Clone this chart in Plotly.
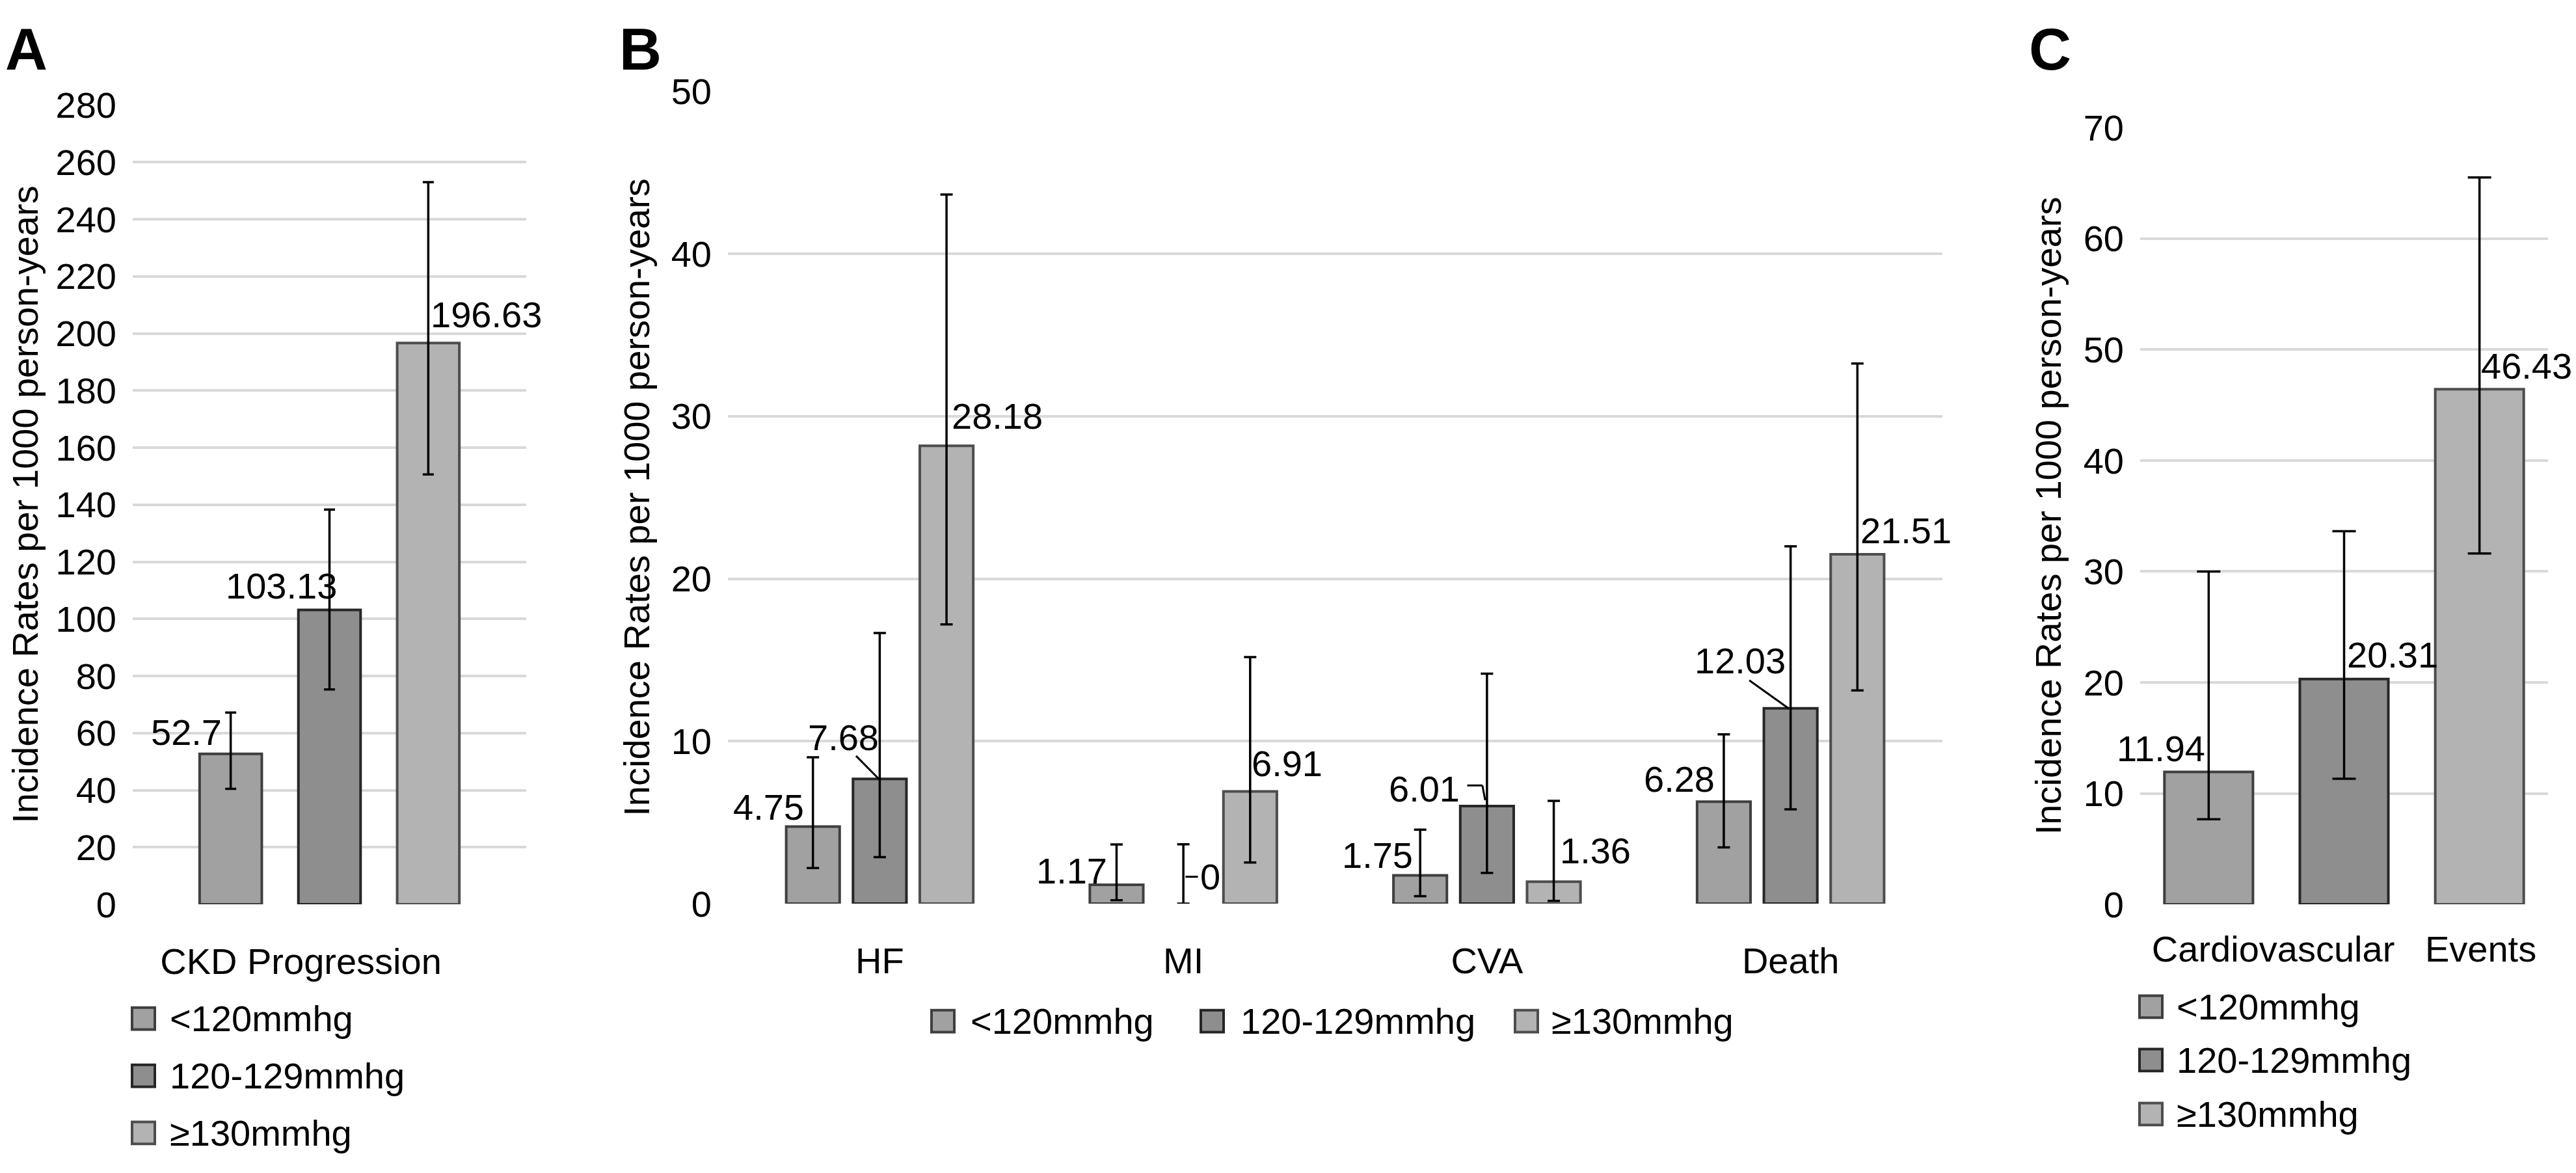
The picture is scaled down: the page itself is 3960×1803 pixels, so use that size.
import plotly.graph_objects as go

W, H = 3960, 1803
OFF = 8  # default page margin of the html body
FONT = "Liberation Sans, Arial, Helvetica, sans-serif"
FS = 56

# ---------------- data ----------------
series = ["<120mmhg", "120-129mmhg", "≥130mmhg"]

a_cats = ["CKD Progression"]
a_vals = [[52.7], [103.13], [196.63]]
a_lo = [[40.5], [75.3], [150.6]]
a_hi = [[67.2], [138.3], [253.0]]

b_cats = ["HF", "MI", "CVA", "Death"]
b_vals = [[4.75, 1.17, 1.75, 6.28], [7.68, 0, 6.01, 12.03], [28.18, 6.91, 1.36, 21.51]]
b_lo = [[2.20, 0.21, 0.47, 3.47], [2.87, 0, 1.90, 5.81], [17.19, 2.54, 0.17, 13.13]]
b_hi = [[9.01, 3.65, 4.56, 10.42], [16.66, 3.66, 14.16, 22.0], [43.65, 15.18, 6.33, 33.25]]

c_cats = ["Cardiovascular\u00a0\u00a0 Events"]
c_vals = [[11.94], [20.31], [46.43]]
c_lo = [[7.67], [11.32], [31.62]]
c_hi = [[30.0], [33.64], [65.52]]

y_title = "Incidence Rates per 1000 person-years"

# ---------------- style ----------------
fills = ["#a1a1a1", "#8e8e8e", "#b3b3b3"]
edges = ["#3f3f3f", "#262626", "#4d4d4d"]

def px_x(p):
    return (p - OFF) / W

def px_y(p):
    return 1 - (p - OFF) / H

panels = [
    dict(key="", cats=a_cats, vals=a_vals, lo=a_lo, hi=a_hi, width=0.158, step=0.251, cap=8.5,
         dom_x=(204, 809), dom_y=(135, 1408), rng=(0, 280), dtick=20, standoff=50, shift=-44,
         title_x=39, letter="A", letter_x=OFF - 2,
         labels=[[(-0.271, 7.5, "right")], [(0.023, 8.5, "right")], [(0.254, 10.0, "left")]]),
    dict(key="2", cats=b_cats, vals=b_vals, lo=b_lo, hi=b_hi, width=0.176, step=0.22, cap=9.5,
         dom_x=(1119, 2986), dom_y=(113, 1407), rng=(0, 50), dtick=10, standoff=50, shift=0,
         title_x=979, letter="B", letter_x=950,
         labels=[[(-0.246, 1.19, "right"), (-0.246, 0.85, "right"), (-0.24, 1.25, "right"), (-0.246, 1.4, "right")],
                 [(-0.12, 2.57, "center"), (0.052, 1.65, "left"), (-0.086, 1.06, "right"), (-0.167, 2.92, "center")],
                 [(0.232, 1.82, "left"), (0.22, 1.73, "left"), (0.235, 1.89, "left"), (0.225, 1.45, "left")]]),
    dict(key="3", cats=c_cats, vals=c_vals, lo=c_lo, hi=c_hi, width=0.217, step=0.332, cap=18,
         dom_x=(3290, 3917), dom_y=(171, 1408), rng=(0, 70), dtick=10, standoff=31, shift=0,
         title_x=3148, letter="C", letter_x=3117,
         labels=[[(-0.338, 2.11, "right")], [(0.004, 2.19, "left")], [(0.333, 2.07, "left")]]),
]

fig = go.Figure()
annotations = []
shapes = []

for p in panels:
    xa = "x" + p["key"]
    ya = "y" + p["key"]
    for s in range(3):
        v = p["vals"][s]
        fig.add_trace(go.Bar(
            x=p["cats"], y=v, name=series[s], showlegend=False,
            xaxis=xa, yaxis=ya,
            width=p["width"], offset=(s - 1) * p["step"] - p["width"] / 2,
            marker=dict(color=fills[s],
                        line=dict(color=edges[s], width=[4 if val > 0 else 0 for val in v])),
            error_y=dict(type="data", symmetric=False,
                         array=[h - y for h, y in zip(p["hi"][s], v)],
                         arrayminus=[y - l for l, y in zip(p["lo"][s], v)],
                         color="black", thickness=3.5, width=p["cap"]),
        ))
        for i, val in enumerate(v):
            dx, dy, anc = p["labels"][s][i]
            annotations.append(dict(
                x=i + dx, y=val + dy, xref=xa, yref=ya, text=f"{val:g}",
                showarrow=False, xanchor=anc, yanchor="middle",
                font=dict(family=FONT, size=FS, color="black")))
    # y-axis title
    y0, y1 = p["dom_y"]
    annotations.append(dict(
        x=px_x(p["title_x"]), y=px_y((y0 + y1) / 2), xref="paper", yref="paper",
        text=y_title, textangle=-90, showarrow=False, xanchor="center", yanchor="middle",
        font=dict(family=FONT, size=FS, color="black")))
    # panel letter
    annotations.append(dict(
        x=px_x(p["letter_x"]), y=px_y(46), xref="paper", yref="paper",
        text=f"<b>{p['letter']}</b>", showarrow=False, xanchor="left", yanchor="middle",
        font=dict(family=FONT, size=90, color="black")))

    axis_x = dict(domain=[px_x(p["dom_x"][0]), px_x(p["dom_x"][1])],
                  anchor=ya, type="category", range=[-0.5, len(p["cats"]) - 0.5],
                  showgrid=False, showline=False, zeroline=False, ticks="",
                  ticklabelstandoff=p["standoff"], ticklabelshift=p["shift"],
                  tickfont=dict(family=FONT, size=FS, color="black"))
    axis_y = dict(domain=[px_y(y1), px_y(y0)], anchor=xa, range=list(p["rng"]),
                  dtick=p["dtick"], tick0=0, showgrid=True, gridcolor="#d9d9d9", gridwidth=3.5,
                  showline=False, zeroline=False, ticks="", ticklabelstandoff=24,
                  tickfont=dict(family=FONT, size=FS, color="black"))
    fig.layout["xaxis" + p["key"]] = axis_x
    fig.layout["yaxis" + p["key"]] = axis_y

# leader lines in panel B (label -> bar)
leaders = [
    [(-0.078, 9.1), (-0.003, 7.68)],                 # HF 120-129
    [(1.007, 1.66), (1.048, 1.66)],                  # MI 120-129
    [(1.935, 7.28), (1.985, 7.28), (1.994, 6.37)],   # CVA 120-129
    [(2.864, 13.75), (2.993, 12.03)],                # Death 120-129
]
for pts in leaders:
    for (xa0, ya0), (xa1, ya1) in zip(pts[:-1], pts[1:]):
        shapes.append(dict(type="line", xref="x2", yref="y2", x0=xa0, y0=ya0, x1=xa1, y1=ya1,
                           line=dict(color="black", width=3)))

# manual legends (square swatches + text)
SW = 35
def legend_item(xl, yc, s, text_x):
    shapes.append(dict(type="rect", xref="paper", yref="paper",
                       x0=px_x(xl), x1=px_x(xl + SW), y0=px_y(yc + SW / 2), y1=px_y(yc - SW / 2),
                       fillcolor=fills[s], line=dict(color=edges[s], width=4)))
    annotations.append(dict(x=px_x(text_x), y=px_y(yc), xref="paper", yref="paper",
                            text=series[s], showarrow=False, xanchor="left", yanchor="middle",
                            font=dict(family=FONT, size=FS, color="black")))

for s, yc in enumerate([1590, 1681, 1772]):
    legend_item(203, yc, s, 259)
for s, (xl, tx) in enumerate([(1432, 1490), (1846, 1905), (2329, 2383)]):
    legend_item(xl, 1594, s, tx)
for s, yc in enumerate([1571, 1656, 1742]):
    legend_item(3289, yc, s, 3344)

fig.update_layout(
    width=W, height=H, autosize=False,
    margin=dict(l=0, r=0, t=0, b=0),
    paper_bgcolor="white", plot_bgcolor="white",
    font=dict(family=FONT, size=FS, color="black"),
    annotations=annotations, shapes=shapes,
    showlegend=False,
)

fig.write_html("out.html")
